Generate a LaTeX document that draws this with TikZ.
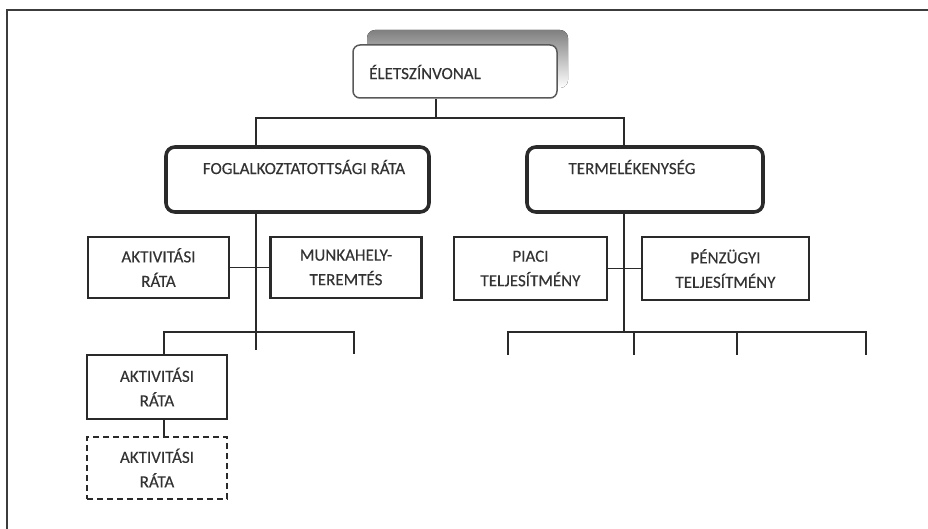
\documentclass[tikz,border=0pt]{standalone}
\usepackage{fontspec}
\setmainfont{Carlito}
\newfontfamily\heavyfont[FakeBold=0.35]{Carlito}
\definecolor{linec}{HTML}{2A2A2A}
\definecolor{txt}{HTML}{333333}
\definecolor{shade}{HTML}{B4B4B4}
\definecolor{framec}{HTML}{3C3C3C}
\begin{document}
\begin{tikzpicture}[x=1pt,y=-1pt,
  conn/.style={draw=linec, line width=1.7pt},
  lbl/.style={text=txt, font=\heavyfont\fontsize{17}{24.5}\selectfont, align=center, inner sep=0pt},
  boxplain/.style={draw=linec, line width=2.4pt, text=txt, font=\heavyfont\fontsize{17}{24.5}\selectfont, align=center},
  boxbold/.style={draw=linec, line width=3.6pt, rounded corners=9pt},
  boxtop/.style={draw=framec!85, line width=1.5pt, rounded corners=7pt, fill=white},
  boxdash/.style={boxplain, dash pattern=on 6pt off 4pt}
]
\useasboundingbox (0,0) rectangle (928,529);
% outer frame (top and left edges only)
\draw[draw=framec, line width=2pt] (7,529) -- (7,10) -- (928,10);

% top node with shadow
\fill[shade, rounded corners=8pt] (367,30) rectangle (568,88);
\node[boxtop, minimum width=204pt, minimum height=53pt] (elet) at (455,71.5) {};
\node[lbl, anchor=west] (eletT) at (369,72) {ÉLETSZÍNVONAL};

% second level
\node[boxbold, minimum width=263pt, minimum height=65pt] (fog) at (297.5,179.5) {};
\node[lbl] (fogT) at (304,167) {FOGLALKOZTATOTTSÁGI RÁTA};
\node[boxbold, minimum width=236pt, minimum height=65pt] (term) at (645,179.5) {};
\node[lbl] (termT) at (632,167) {TERMELÉKENYSÉG};

% third level
\node[boxplain, minimum width=141pt, minimum height=61pt] (akt1) at (158.5,267.5) {AKTIVITÁSI\\RÁTA};
\node[boxplain, minimum width=151pt, minimum height=61pt] (munka) at (346,267.5) {MUNKAHELY-\\TEREMTÉS};
\node[boxplain, minimum width=153pt, minimum height=63pt] (piaci) at (530.5,268.5) {PIACI\\TELJESÍTMÉNY};
\node[boxplain, minimum width=167pt, minimum height=63pt] (penz) at (725.5,268.5) {PÉNZÜGYI\\TELJESÍTMÉNY};

% fourth level
\node[boxplain, minimum width=140pt, minimum height=64pt] (akt2) at (157,387) {AKTIVITÁSI\\RÁTA};
\node[boxdash, minimum width=140pt, minimum height=62pt] (akt3) at (157,468) {AKTIVITÁSI\\RÁTA};

% junction coordinates
\coordinate (j0) at (436,118);
\coordinate (jL) at (256,118);
\coordinate (jR) at (624,118);
\coordinate (t1) at (256,350);
\coordinate (b1) at (164,332);
\coordinate (b3) at (354,332);
\coordinate (e3) at (354,354);
\coordinate (t2) at (624,332);
\coordinate (r1) at (508,332);
\coordinate (r2) at (634,332);
\coordinate (r3) at (737,332);
\coordinate (r4) at (866,332);
\coordinate (f1) at (508,355);
\coordinate (f2) at (634,355);
\coordinate (f3) at (737,355);
\coordinate (f4) at (866,355);

% connectors
\draw[conn] (j0 |- elet.south) -- (j0);
\draw[conn] (jL |- fog.north) -- (jL) -- (jR) -- (jR |- term.north);
\draw[conn] (t1 |- fog.south) -- (t1);
\draw[conn] (akt1.east) -- (munka.west);
\draw[conn] (b1 |- akt2.north) -- (b1) -- (b3) -- (e3);
\draw[conn] (akt2.south -| b1) -- (akt3.north -| b1);
\draw[conn] (t2 |- term.south) -- (t2);
\draw[conn] (piaci.east) -- (penz.west);
\draw[conn] (f1) -- (r1) -- (r4) -- (f4);
\draw[conn] (r2) -- (f2);
\draw[conn] (r3) -- (f3);
\end{tikzpicture}
\end{document}
